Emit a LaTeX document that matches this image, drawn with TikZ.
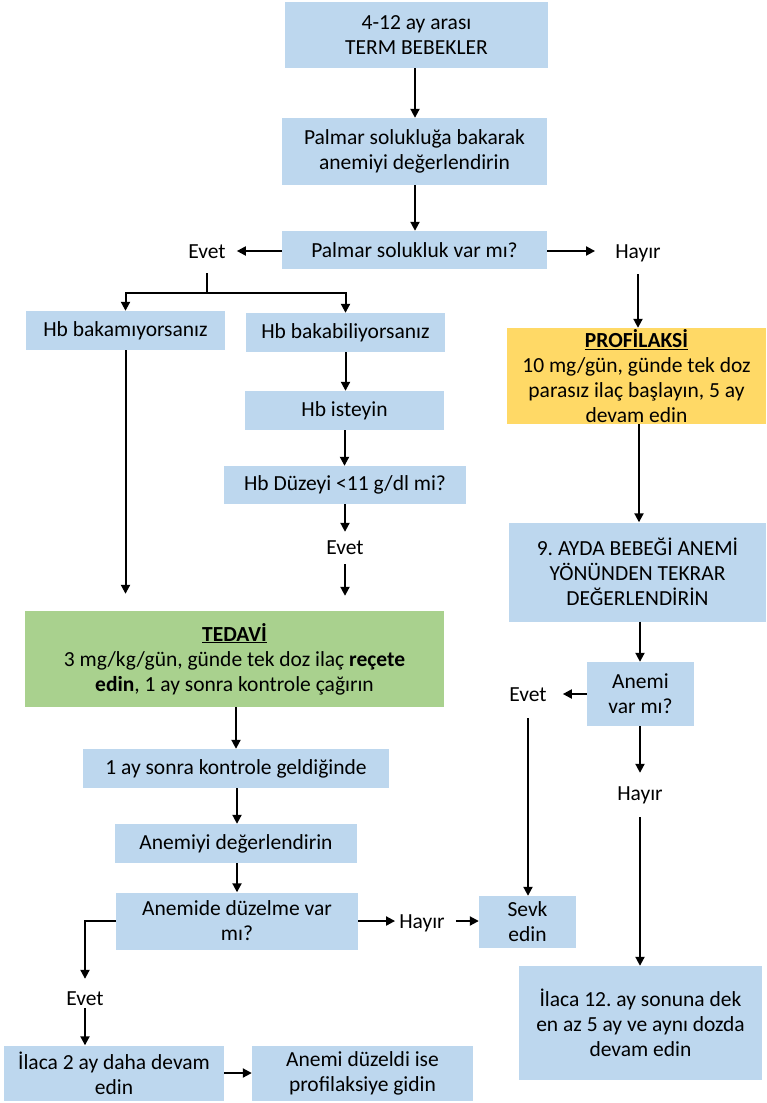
\documentclass[tikz,border=0pt]{standalone}
\usepackage{fontspec}
\setmainfont{Carlito}
\frenchspacing
\usetikzlibrary{arrows.meta}
\definecolor{boxblue}{HTML}{BDD7EE}
\definecolor{boxgreen}{HTML}{A9D18E}
\definecolor{boxyellow}{HTML}{FFD966}
\begin{document}
\begin{tikzpicture}[x=1pt,y=-1pt,
  txt/.style={font=\fontsize{21.5}{25}\selectfont\frenchspacing},
  box/.style={txt, rectangle, fill=boxblue, inner sep=0pt, align=center},
  lbl/.style={txt, inner sep=0pt, text height=14pt, text depth=0pt},
  arr/.style={line width=2pt, -{Triangle[length=9pt,width=9pt]}},
  ln/.style={line width=2pt}]
\useasboundingbox (0,0) rectangle (766,1103);

% main column
\node[box, minimum width=263pt, minimum height=66pt] (top) at (416.5,35) {4-12 ay arası\\TERM BEBEKLER};
\node[box, minimum width=265pt, minimum height=67pt] (palm) at (414.5,151.5) {Palmar solukluğa bakarak\\anemiyi değerlendirin};
\node[box, minimum width=265pt, minimum height=38pt] (q1) at (414.5,250) {Palmar solukluk var mı?};
\node[lbl] (evet1) at (207,251) {Evet};
\node[lbl] (hayir1) at (638,251) {Hayır};
\coordinate (split) at (207,293);

% left branch
\node[box, minimum width=199pt, minimum height=39pt] (hbno) at (125.5,330.5) {Hb bakamıyorsanız};
\node[box, minimum width=199pt, minimum height=39pt] (hbyes) at (345.5,332.5) {Hb bakabiliyorsanız};
\node[box, minimum width=199pt, minimum height=39pt] (hbist) at (344.5,410.5) {Hb isteyin};
\node[box, minimum width=242pt, minimum height=38pt] (hbq) at (345,485) {Hb Düzeyi <11 g/dl mi?};
\node[lbl] (evet2) at (345,547) {Evet};
\node[box, fill=boxgreen, minimum width=419pt, minimum height=96pt] (tedavi) at (234.5,659)
  {\underline{\textbf{TEDAVİ}}\\3 mg/kg/gün, günde tek doz ilaç \textbf{reçete}\\\textbf{edin}, 1 ay sonra kontrole çağırın};
\node[box, minimum width=306pt, minimum height=39pt] (kontrol) at (236,768.5) {1 ay sonra kontrole geldiğinde};
\node[box, minimum width=242pt, minimum height=39pt] (degerl) at (236,843.5) {Anemiyi değerlendirin};
\node[box, minimum width=242pt, minimum height=57pt] (duzelme) at (237,921) {Anemide düzelme var\\mı?};
\node[lbl] (hayir3) at (422,921) {Hayır};
\node[box, minimum width=97pt, minimum height=52pt] (sevk) at (527.5,922) {Sevk\\edin};
\node[lbl] (evet4) at (85,998) {Evet};
\node[box, minimum width=220pt, minimum height=55pt] (ilaca2) at (114,1073) {İlaca 2 ay daha devam\\edin};
\node[box, minimum width=221pt, minimum height=55pt] (duzeldi) at (362.5,1073) {Anemi düzeldi ise\\profilaksiye gidin};

% right branch
\node[box, fill=boxyellow, minimum width=259pt, minimum height=96pt] (profil) at (636.5,376)
  {\underline{\textbf{PROFİLAKSİ}}\\10 mg/gün, günde tek doz\\parasız ilaç başlayın, 5 ay\\devam edin};
\node[box, minimum width=257pt, minimum height=99pt] (ayda) at (637.5,572) {9. AYDA BEBEĞİ ANEMİ\\YÖNÜNDEN TEKRAR\\DEĞERLENDİRİN};
\node[box, minimum width=107pt, minimum height=64pt] (anemiq) at (640.5,694) {Anemi\\var mı?};
\node[lbl] (evet3) at (528,694) {Evet};
\node[lbl] (hayir2) at (640,793) {Hayır};
\node[box, minimum width=243pt, minimum height=114pt] (ilaca12) at (640.5,1023) {İlaca 12. ay sonuna dek\\en az 5 ay ve aynı dozda\\devam edin};

% connectors: main column
\draw[arr] (415,68) coordinate (t0) -- (t0 |- palm.north);
\draw[arr] (415,185) coordinate (p0) -- (p0 |- q1.north);
\draw[arr, shorten >=11pt] (q1.west |- evet1) -- (evet1.east);
\draw[arr, shorten >=20pt] (q1.east |- hayir1) -- (hayir1.west);
\draw[ln, shorten <=15pt] (evet1) -- (split);
\draw[arr] (split) -| (hbno.north);
\draw[arr] (split) -| (hbyes.north);

% connectors: left branch
\draw[arr] (hbyes.south) -- (hbyes.south |- hbist.north);
\draw[arr] (hbist.south) -- (hbist.south |- hbq.north);
\draw[arr, shorten >=8pt] (hbq) -- (evet2);
\draw[arr, shorten <=10pt, shorten >=15pt] (evet2) -- (evet2 |- tedavi.north);
\draw[arr, shorten >=17pt] (hbno) -- (hbno |- tedavi.north);
\draw[arr] (236,707) coordinate (d0) -- (d0 |- kontrol.north);
\draw[arr] (237,788) coordinate (k0) -- (k0 |- degerl.north);
\draw[arr] (237,863) coordinate (g0) -- (g0 |- duzelme.north);
\draw[arr, shorten >=4pt] (duzelme.east |- hayir3) -- (hayir3.west);
\draw[arr, shorten <=11pt] (hayir3.east) -- (hayir3 -| sevk.west);
\draw[arr, shorten >=12pt] (duzelme.west) -| (evet4.north);
\draw[arr, shorten <=3pt] (evet4) -- (evet4 |- ilaca2.north);
\draw[arr] (ilaca2.east) -- (duzeldi.west);

% connectors: right branch
\draw[arr, shorten <=16pt] (hayir1) -- (hayir1 |- profil.north);
\draw[arr] (639,424) coordinate (r0) -- (r0 |- ayda.north);
\draw[arr] (640,621.5) coordinate (a0) -- (a0 |- anemiq.north);
\draw[arr, shorten >=16pt] (anemiq.west) -- (evet3.east);
\draw[arr, shorten <=17pt] (evet3) -- (evet3 |- sevk.north);
\draw[arr, shorten >=13pt] (hayir2 |- anemiq.south) -- (hayir2);
\draw[arr, shorten <=17pt] (hayir2) -- (hayir2 |- ilaca12.north);
\end{tikzpicture}
\end{document}
